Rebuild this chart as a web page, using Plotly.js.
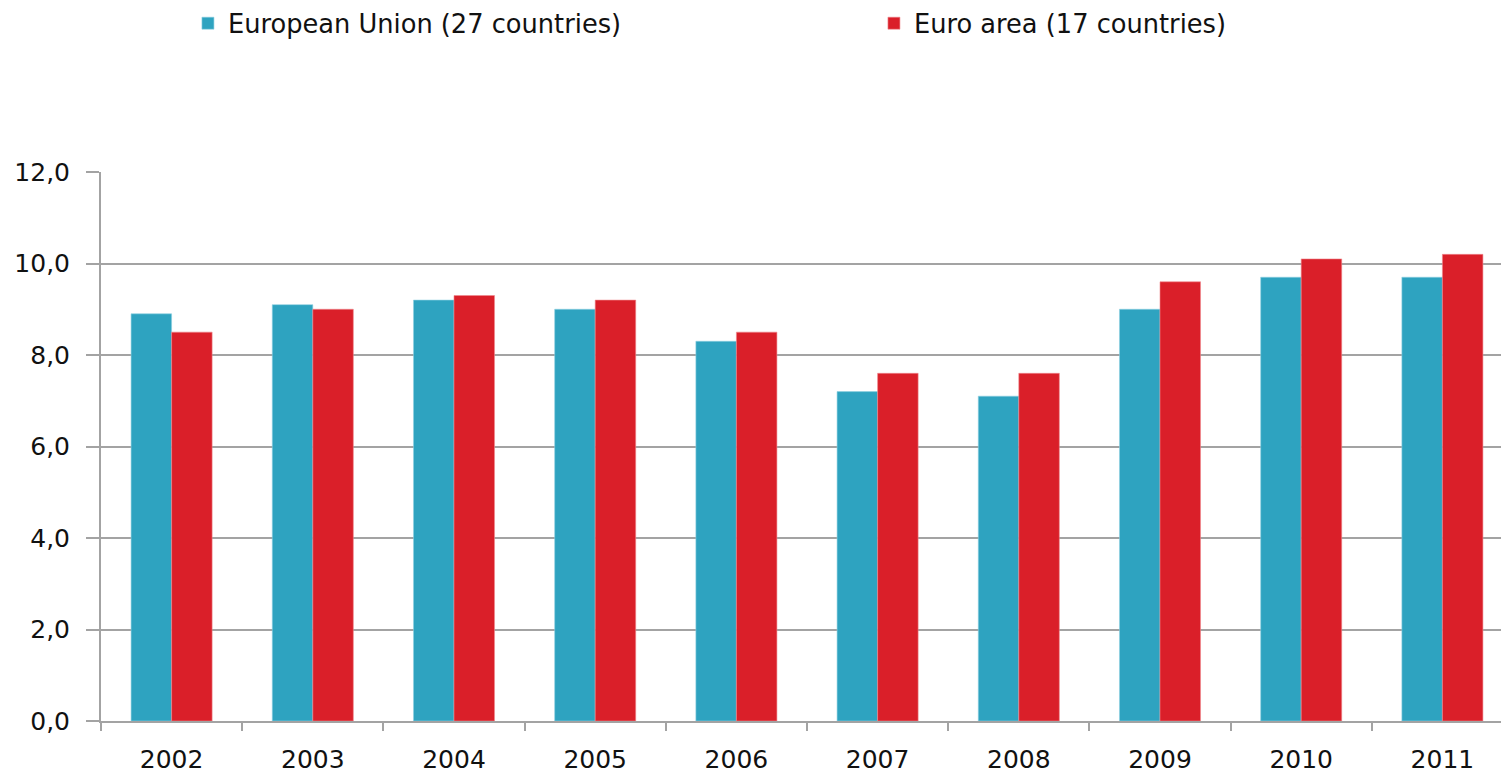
<!DOCTYPE html>
<html>
<head>
<meta charset="utf-8">
<script src="https://cdn.plot.ly/plotly-3.0.1.min.js"></script>
<style>html,body{margin:0;padding:0;background:#fff;overflow:hidden;}#chart{width:1501px;height:774px;}</style>
</head>
<body>
<div id="chart"></div>
<script>
const years = ['2002','2003','2004','2005','2006','2007','2008','2009','2010','2011'];
const euValues = [8.9, 9.1, 9.2, 9.0, 8.3, 7.2, 7.1, 9.0, 9.7, 9.7];
const euroAreaValues = [8.5, 9.0, 9.3, 9.2, 8.5, 7.6, 7.6, 9.6, 10.1, 10.2];
const seriesNames = ['European Union (27 countries)', 'Euro area (17 countries)'];
const yTicks = [0, 2, 4, 6, 8, 10, 12];

const gray = '#a3a3a3';
const traces = [
  {type:'bar', name:seriesNames[0], x:years, y:euValues, legend:'legend', marker:{color:'#2ea3c0', line:{color:'#8fd0e0', width:0.6}}, hoverinfo:'y'},
  {type:'bar', name:seriesNames[1], x:years, y:euroAreaValues, legend:'legend2', marker:{color:'#da1f29', line:{color:'#f08a8f', width:0.6}}, hoverinfo:'y'}
];
const legendBase = {orientation:'h', xanchor:'left', y:1, yref:'container', yanchor:'top', font:{size:25.7}};
const layout = {
  width:1501, height:774,
  margin:{l:101, r:0, t:172, b:53},
  paper_bgcolor:'#fff', plot_bgcolor:'#fff',
  font:{family:'DejaVu Sans, sans-serif', size:25, color:'#111'},
  separators:',.',
  barmode:'group', bargap:0.426, bargroupgap:0,
  showlegend:true,
  legend:Object.assign({}, legendBase, {x:0.0621}),
  legend2:Object.assign({}, legendBase, {x:0.5521}),
  xaxis:{type:'category', range:[-0.5, 9.415], tickson:'boundaries', ticks:'outside', ticklen:8, tickwidth:2, tickcolor:gray, showline:true, linecolor:gray, linewidth:2, showgrid:false, ticklabelstandoff:15, fixedrange:true},
  yaxis:{range:[0,12], tickvals:yTicks, tickformat:'.1f', ticks:'outside', ticklen:13, tickwidth:2, tickcolor:gray, showline:true, linecolor:gray, linewidth:2, showgrid:true, gridcolor:gray, gridwidth:2, zeroline:false, ticklabelstandoff:11, fixedrange:true}
};
Plotly.newPlot('chart', traces, layout, {displayModeBar:false, staticPlot:true});
</script>
</body>
</html>
